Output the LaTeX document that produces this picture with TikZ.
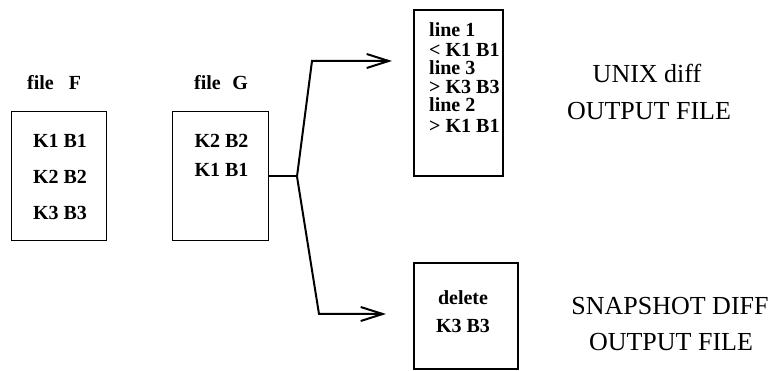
\documentclass[tikz,border=0pt]{standalone}
\usepackage{fontspec}
\setmainfont{Liberation Serif}
\usetikzlibrary{arrows.meta}
\begin{document}
\begin{tikzpicture}[x=1pt,y=-1pt,
  lbl/.style={font=\fontsize{20}{20}\selectfont\bfseries, inner sep=0pt, anchor=base},
  lblw/.style={lbl, anchor=base west, text height=14pt, text depth=2.5pt},
  note/.style={font=\fontsize{26}{26}\selectfont, inner sep=0pt, anchor=base},
  filebox/.style={draw, line width=1pt, inner sep=0pt},
  outbox/.style={draw, line width=2pt, inner sep=0pt},
  link/.style={line width=2pt},
  flow/.style={line width=2pt, line join=miter,
    -{Straight Barb[length=22pt,width=14pt,line width=2pt]}}]
\useasboundingbox (0,0) rectangle (771,371);

% input files
\node[filebox, minimum width=95pt, minimum height=129pt] (F) at (58.5,176.5) {};
\node[filebox, minimum width=96pt, minimum height=129pt] (G) at (220,176.5) {};
\node[lblw] (Ft) at (27,90) {file\hspace{15pt}F};
\node[lblw] (Gt) at (194,90) {file\hspace{11.5pt}G};
\node[lbl] (F1) at (60,148) {K1 B1};
\node[lbl] (F2) at (60,184) {K2 B2};
\node[lbl] (F3) at (60,220) {K3 B3};
\node[lbl] (G1) at (221.5,148) {K2 B2};
\node[lbl] (G2) at (221.5,177) {K1 B1};

% output files
\node[outbox, minimum width=89pt, minimum height=166pt] (O1) at (458.5,93) {};
\node[outbox, minimum width=104pt, minimum height=106pt] (O2) at (466,316) {};
\node[lblw] (U1) at (429,37) {line 1};
\node[lblw] (U2) at (429,57) {< K1 B1};
\node[lblw] (U3) at (429,75) {line 3};
\node[lblw] (U4) at (429,94) {> K3 B3};
\node[lblw] (U5) at (429,112) {line 2};
\node[lblw] (U6) at (429,133) {> K1 B1};
\node[lbl] (S1) at (463,305) {delete};
\node[lbl] (S2) at (463,332) {K3 B3};

% captions
\node[note] (C1) at (647,83) {UNIX diff};
\node[note] (C2) at (649,120) {OUTPUT FILE};
\node[note] (C3) at (670,315) {SNAPSHOT DIFF};
\node[note] (C4) at (671,350) {OUTPUT FILE};

% connectors
\coordinate (J) at (297,176.5);
\coordinate (Up) at (312,61);
\coordinate (Dn) at (319,314);
\draw[link] (G.east) -- (J);
\draw[flow, shorten >=21pt] (J) -- (Up) -- (Up -| O1.west);
\draw[flow, shorten >=27pt] (J) -- (Dn) -- (Dn -| O2.west);
\end{tikzpicture}
\end{document}
